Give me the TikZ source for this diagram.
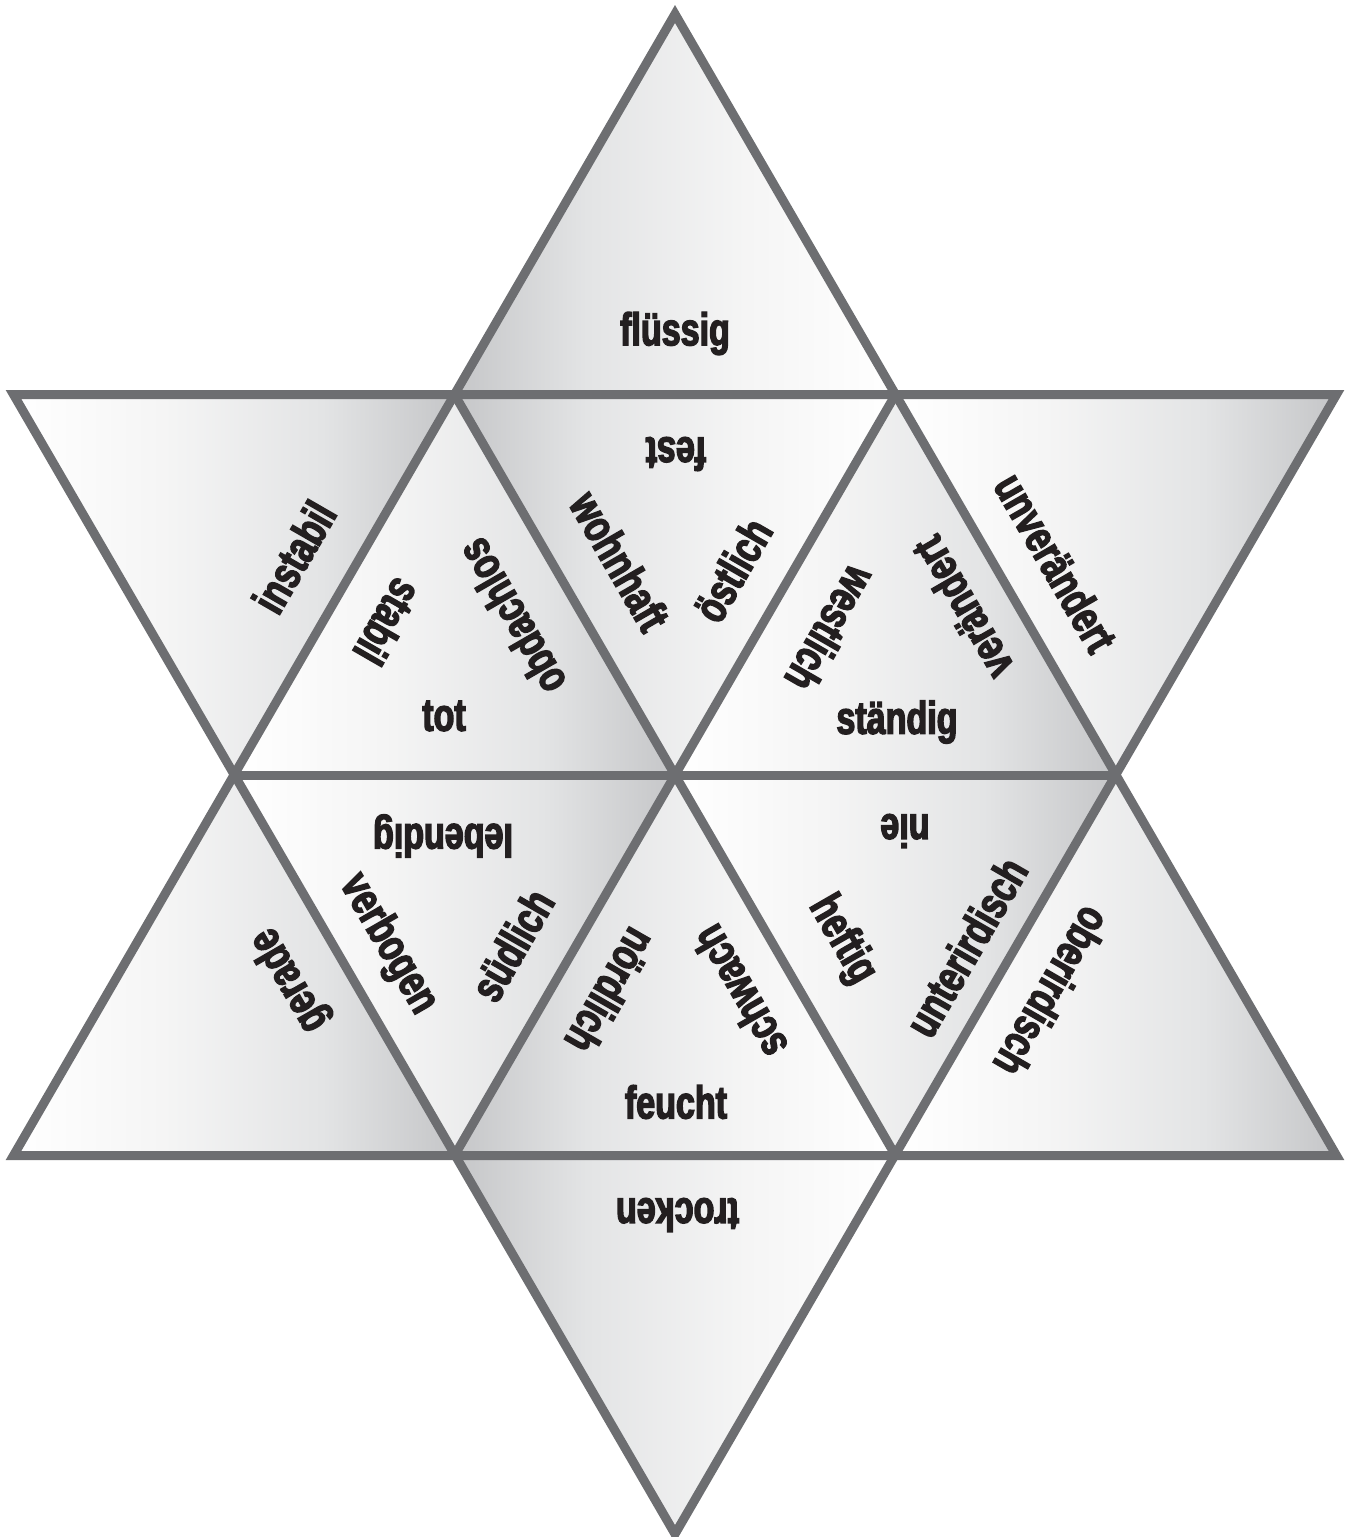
\documentclass[tikz,border=0pt]{standalone}
\usepackage{fontspec}
\newfontfamily\lblfont{Liberation Sans Bold}[FakeStretch=0.74, FakeBold=3]
\definecolor{edgegray}{HTML}{6D6E71}
\definecolor{txt}{HTML}{231F20}
\definecolor{sA}{HTML}{F5F5F5}
\definecolor{sB}{HTML}{E3E4E5}
\definecolor{sC}{HTML}{C5C6C8}
\pgfdeclarehorizontalshading{lighttodark}{100bp}{color(0bp)=(white); color(25bp)=(white); color(42bp)=(sA); color(60bp)=(sB); color(75bp)=(sC); color(100bp)=(sC)}
\pgfdeclarehorizontalshading{darktolight}{100bp}{color(0bp)=(sC); color(25bp)=(sC); color(40bp)=(sB); color(58bp)=(sA); color(75bp)=(white); color(100bp)=(white)}
\tikzset{
  ltd/.style={shading=lighttodark},
  dtl/.style={shading=darktolight},
  edgeline/.style={draw=edgegray, line width=9pt, line join=miter},
  lbl/.style={font=\lblfont\fontsize{46}{46}\selectfont, inner sep=0pt, anchor=center, text=txt}
}
\begin{document}
\begin{tikzpicture}[x=1pt,y=-1pt]
\useasboundingbox (0,0) rectangle (1351,1537);
% vertices
\coordinate (T) at (675,14);
\coordinate (A1) at (13.5,394.5);
\coordinate (A2) at (454.5,394.5);
\coordinate (A3) at (895.5,394.5);
\coordinate (A4) at (1336.5,394.5);
\coordinate (B1) at (234,775);
\coordinate (B2) at (675,775);
\coordinate (B3) at (1116,775);
\coordinate (C1) at (13.5,1155.5);
\coordinate (C2) at (454.5,1155.5);
\coordinate (C3) at (895.5,1155.5);
\coordinate (C4) at (1336.5,1155.5);
\coordinate (U) at (675,1534);
% fills
\shade[dtl] (T) -- (A2) -- (A3) -- cycle;
\shade[ltd] (A1) -- (A2) -- (B1) -- cycle;
\shade[ltd] (A2) -- (B1) -- (B2) -- cycle;
\shade[dtl] (A2) -- (A3) -- (B2) -- cycle;
\shade[ltd] (A3) -- (B2) -- (B3) -- cycle;
\shade[ltd] (A3) -- (A4) -- (B3) -- cycle;
\shade[ltd] (B1) -- (C1) -- (C2) -- cycle;
\shade[ltd] (B1) -- (B2) -- (C2) -- cycle;
\shade[dtl] (B2) -- (C2) -- (C3) -- cycle;
\shade[ltd] (B2) -- (B3) -- (C3) -- cycle;
\shade[ltd] (B3) -- (C3) -- (C4) -- cycle;
\shade[dtl] (C2) -- (C3) -- (U) -- cycle;
% lines
\draw[edgeline] (T) -- (C1) -- (C4) -- cycle;
\draw[edgeline] (A1) -- (A4) -- (U) -- cycle;
\draw[edgeline] (B1) -- (B3);
\draw[edgeline] (A2) -- (C3);
\draw[edgeline] (A3) -- (C2);
% labels
\node[lbl] (w1) at (675,333.5) {flüssig};
\node[lbl, rotate=60] (w2) at (294,557) {instabil};
\node[lbl, rotate=240] (w3) at (388,622) {stabil};
\node[lbl, rotate=120] (w4) at (511,617) {obdachlos};
\node[lbl] (w5) at (444,716) {tot};
\node[lbl, rotate=180] (w6) at (676,454) {fest};
\node[lbl, rotate=-60] (w7) at (620,561) {wohnhaft};
\node[lbl, rotate=60] (w8) at (732.5,570) {östlich};
\node[lbl, rotate=240] (w9) at (831,629) {westlich};
\node[lbl, rotate=120] (w10) at (962,608) {verändert};
\node[lbl] (w11) at (897,722) {ständig};
\node[lbl, rotate=-60] (w12) at (1056,562.5) {unverändert};
\node[lbl, rotate=120] (w13) at (290,980) {gerade};
\node[lbl, rotate=180] (w14) at (443,836) {lebendig};
\node[lbl, rotate=-60] (w15) at (388,944) {verbogen};
\node[lbl, rotate=60] (w16) at (512,945) {südlich};
\node[lbl, rotate=240] (w17) at (611,991) {nördlich};
\node[lbl, rotate=120] (w18) at (739,992) {schwach};
\node[lbl] (w19) at (676,1102) {feucht};
\node[lbl, rotate=180] (w20) at (905,831) {nie};
\node[lbl, rotate=-60] (w21) at (842,940) {heftig};
\node[lbl, rotate=60] (w22) at (966,947) {unterirdisch};
\node[lbl, rotate=240] (w23) at (1052.5,992) {oberirdisch};
\node[lbl, rotate=180] (w24) at (677.5,1215) {trocken};
\end{tikzpicture}
\end{document}
